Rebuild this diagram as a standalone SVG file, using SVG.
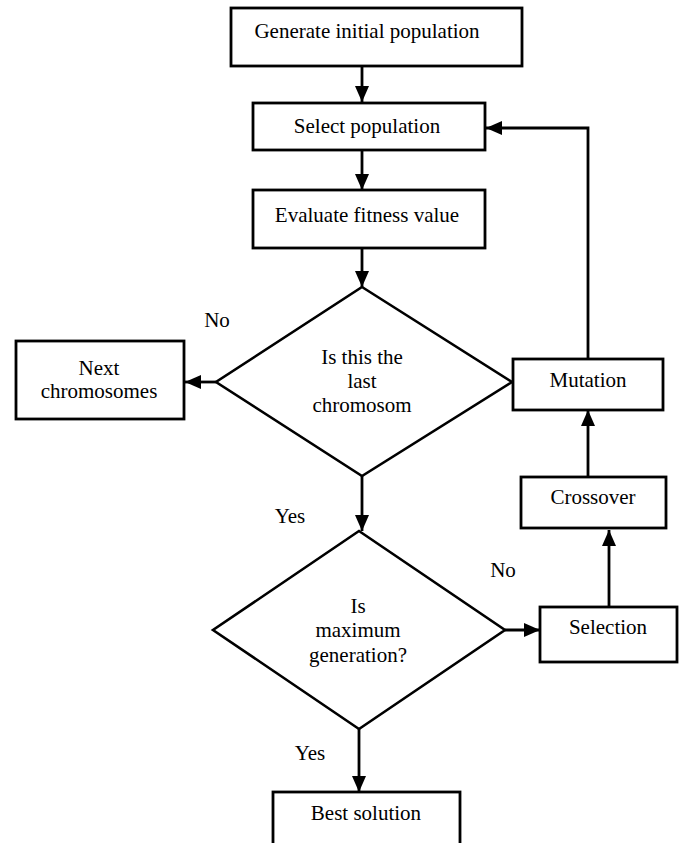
<svg xmlns="http://www.w3.org/2000/svg" width="682" height="843" viewBox="0 0 682 843">
<style>
.box{fill:#fff;stroke:#000;stroke-width:2.8}
.dia{fill:#fff;stroke:#000;stroke-width:2.6}
.t{font-family:"Liberation Serif","Times New Roman",serif;font-size:21px;fill:#000;text-anchor:middle}
.c{fill:none;stroke:#000;stroke-width:2.8}
</style>
<defs>
<marker id="ah" markerUnits="userSpaceOnUse" markerWidth="18" markerHeight="16" refX="16" refY="7" orient="auto">
<path d="M0,0 L16,7 L0,14 Z" fill="#000"/>
</marker>
</defs>
<rect width="682" height="843" fill="#fff"/>
<g id="connectors">
<path class="c" d="M362,66 V102" marker-end="url(#ah)"/>
<path class="c" d="M362,150 V190" marker-end="url(#ah)"/>
<path class="c" d="M362,248 V287" marker-end="url(#ah)"/>
<path class="c" d="M216,382 H185" marker-end="url(#ah)"/>
<path class="c" d="M362,476 V531" marker-end="url(#ah)"/>
<path class="c" d="M359,729 V792" marker-end="url(#ah)"/>
<path class="c" d="M505,630 H540" marker-end="url(#ah)"/>
<path class="c" d="M609,607 V530" marker-end="url(#ah)"/>
<path class="c" d="M588,477 V410" marker-end="url(#ah)"/>
<path class="c" d="M588,359 V128 H486" marker-end="url(#ah)"/>
</g>
<g id="generate">
<rect class="box" x="231" y="8" width="291" height="58"/>
<text class="t" x="367" y="38">Generate initial population</text>
</g>
<g id="select">
<rect class="box" x="253" y="103" width="232" height="47"/>
<text class="t" x="367" y="133">Select population</text>
</g>
<g id="evaluate">
<rect class="box" x="253" y="190" width="232" height="58"/>
<text class="t" x="367" y="222">Evaluate fitness value</text>
</g>
<g id="last">
<polygon class="dia" points="362,287 512,382 362,476 216,382"/>
<text class="t" x="362" y="364">Is this the</text>
<text class="t" x="362" y="388">last</text>
<text class="t" x="362" y="412">chromosom</text>
</g>
<g id="next">
<rect class="box" x="16" y="341" width="168" height="78"/>
<text class="t" x="99" y="375">Next</text>
<text class="t" x="99" y="398">chromosomes</text>
</g>
<g id="maxgen">
<polygon class="dia" points="359,531 505,630 359,729 213,630"/>
<text class="t" x="358" y="613">Is</text>
<text class="t" x="358" y="637">maximum</text>
<text class="t" x="358" y="662">generation?</text>
</g>
<g id="mutation">
<rect class="box" x="513" y="359" width="150" height="51"/>
<text class="t" x="588" y="387">Mutation</text>
</g>
<g id="crossover">
<rect class="box" x="521" y="477" width="145" height="51"/>
<text class="t" x="593" y="504">Crossover</text>
</g>
<g id="selection">
<rect class="box" x="540" y="607" width="137" height="55"/>
<text class="t" x="608" y="634">Selection</text>
</g>
<g id="best">
<rect class="box" x="273" y="792" width="187" height="70"/>
<text class="t" x="366" y="820">Best solution</text>
</g>
<g id="labels">
<text class="t" x="217" y="327">No</text>
<text class="t" x="290" y="523">Yes</text>
<text class="t" x="503" y="577">No</text>
<text class="t" x="310" y="760">Yes</text>
</g>
</svg>
